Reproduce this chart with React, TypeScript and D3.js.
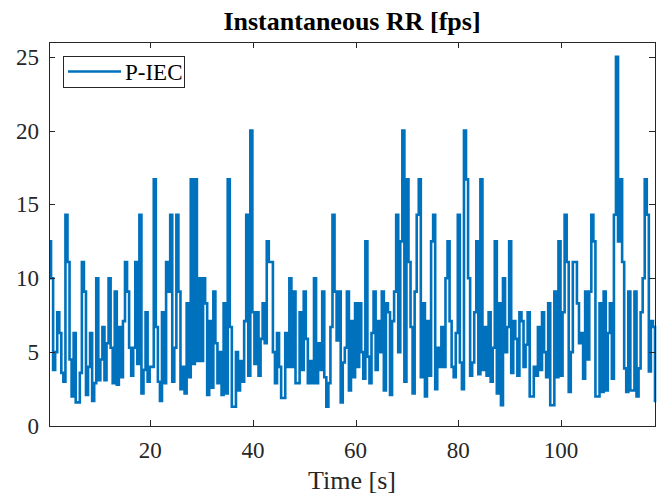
import React, { useEffect, useRef } from 'react';
import * as d3 from 'd3';

// instantaneous refresh rate (fps), one value every STEP seconds
const START = 0.3;
const STEP = 0.4;

const rates0to20 = [
  12.5, 10.0, 3.8, 5.0, 7.7, 6.3, 3.6, 3.0, 14.3, 11.1,
  4.5, 2.0, 6.3, 1.6, 1.6, 3.6, 11.1, 9.1, 2.1, 4.0,
  6.3, 1.7, 2.9, 10.0, 3.1, 4.5, 6.7, 3.1, 5.6, 10.0,
  5.3, 2.9, 9.1, 2.8, 6.7, 3.3, 7.1, 11.1, 9.1, 5.3,
  3.4, 5.3, 11.1, 4.2, 14.3, 2.2, 3.8, 7.7, 3.0, 4.0,
];
const rates20to40 = [
  4.0, 16.7, 6.7, 3.0, 1.7, 7.7, 2.9, 11.1, 9.1, 14.3,
  3.0, 5.3, 14.3, 9.1, 2.5, 4.0, 2.2, 8.3, 3.3, 16.7,
  4.2, 16.7, 4.4, 10.0, 4.4, 10.0, 8.3, 2.1, 7.1, 2.6,
  9.1, 5.6, 2.9, 5.0, 2.1, 8.3, 2.2, 16.7, 6.7, 1.3,
  1.3, 5.0, 2.4, 4.4, 3.0, 7.1, 14.3, 3.4, 20.0, 7.7,
];
const rates40to60 = [
  4.2, 7.7, 3.4, 5.9, 8.3, 5.6, 12.5, 11.1, 11.1, 5.0,
  2.9, 6.3, 4.0, 1.9, 1.9, 6.3, 4.0, 10.0, 4.0, 9.1,
  2.9, 2.9, 7.7, 3.8, 9.1, 5.9, 2.9, 4.4, 2.9, 10.0,
  2.9, 5.6, 3.8, 9.1, 3.3, 1.3, 2.9, 6.7, 14.3, 9.1,
  5.8, 9.1, 1.6, 4.3, 5.3, 9.1, 2.4, 7.1, 3.3, 8.3,
];
const rates60to80 = [
  4.0, 8.3, 5.0, 3.2, 12.5, 4.7, 2.9, 6.3, 9.1, 3.8,
  7.1, 5.0, 9.1, 2.4, 8.3, 7.7, 2.1, 7.1, 9.1, 14.3,
  5.0, 12.5, 20.0, 3.0, 16.7, 11.1, 6.7, 2.2, 9.1, 14.3,
  16.7, 3.3, 8.3, 2.0, 7.1, 3.4, 12.5, 14.3, 2.5, 5.3,
  4.0, 6.7, 4.0, 10.0, 12.5, 7.1, 4.0, 3.3, 6.3, 14.3,
];
const rates80to100 = [
  4.3, 2.5, 20.0, 16.7, 10.0, 3.4, 4.3, 7.7, 12.5, 3.5,
  16.7, 3.8, 6.7, 3.4, 7.7, 3.0, 5.3, 12.5, 2.2, 8.3,
  1.4, 10.0, 5.0, 6.7, 12.5, 3.6, 7.1, 5.9, 3.4, 7.7,
  7.1, 4.0, 5.5, 7.7, 2.0, 2.0, 4.0, 3.4, 6.7, 3.8,
  7.7, 5.0, 3.3, 8.3, 1.4, 1.4, 9.1, 3.3, 12.5, 3.4,
];
const rates100to118 = [
  7.7, 14.3, 11.1, 2.3, 5.0, 11.1, 11.1, 8.3, 5.6, 6.3,
  3.2, 9.1, 4.5, 9.1, 14.3, 12.5, 2.0, 2.0, 8.3, 2.3,
  9.1, 2.4, 6.3, 8.3, 3.2, 14.3, 25.0, 12.5, 16.7, 11.1,
  3.9, 2.3, 9.1, 2.4, 2.4, 9.1, 2.0, 3.9, 7.7, 10.0,
  16.7, 14.3, 3.7, 7.1, 6.7, 1.6,
];

const xTicks = [20, 40, 60, 80, 100];
const yTicks = [0, 5, 10, 15, 20, 25];
const seriesName = 'P-IEC';

const W = 672;
const H = 496;
const box = { left: 49, right: 655, top: 42, bottom: 426 };
const BLUE = '#0072BD';
const AXIS = '#262626';
const FONT = '"Liberation Serif", "Times New Roman", serif';

export default function App() {
  const svgRef = useRef<SVGSVGElement>(null);

  useEffect(() => {
    const svg = d3.select(svgRef.current);
    svg.selectAll('*').remove();

    const rates = [
      ...rates0to20, ...rates20to40, ...rates40to60,
      ...rates60to80, ...rates80to100, ...rates100to118,
    ];
    const data = rates.map((v, i) => ({ t: START + i * STEP, v }));

    const x = d3.scaleLinear().domain([0.3, 118.3]).range([box.left, box.right]);
    const y = d3.scaleLinear().domain([0, 26]).range([box.bottom, box.top]);

    svg.append('rect').attr('width', W).attr('height', H).attr('fill', '#fff');

    // stairs line
    const line = d3.line<{ t: number; v: number }>()
      .x(d => x(d.t))
      .y(d => y(d.v))
      .curve(d3.curveStepAfter);

    svg.append('path')
      .datum(data)
      .attr('d', line)
      .attr('fill', 'none')
      .attr('stroke', BLUE)
      .attr('stroke-width', 2.6)
      .attr('stroke-linejoin', 'miter');

    // box with inward ticks on all four sides
    const g = svg.append('g').attr('stroke', AXIS).attr('stroke-width', 1).attr('fill', 'none');
    g.append('rect')
      .attr('x', box.left + 0.5).attr('y', box.top + 0.5)
      .attr('width', box.right - box.left).attr('height', box.bottom - box.top);
    const tl = 6;
    xTicks.forEach(t => {
      const px = Math.round(x(t)) + 0.5;
      g.append('line').attr('x1', px).attr('x2', px).attr('y1', box.bottom).attr('y2', box.bottom - tl);
      g.append('line').attr('x1', px).attr('x2', px).attr('y1', box.top).attr('y2', box.top + tl);
    });
    yTicks.forEach(t => {
      const py = Math.round(y(t)) + 0.5;
      g.append('line').attr('y1', py).attr('y2', py).attr('x1', box.left).attr('x2', box.left + tl);
      g.append('line').attr('y1', py).attr('y2', py).attr('x1', box.right).attr('x2', box.right - tl);
    });

    const txt = svg.append('g').attr('font-family', FONT).attr('fill', AXIS);
    xTicks.forEach(t => {
      txt.append('text').attr('x', x(t)).attr('y', 458)
        .attr('text-anchor', 'middle').attr('font-size', 23).text(t);
    });
    yTicks.forEach(t => {
      txt.append('text').attr('x', 39).attr('y', y(t) + 8)
        .attr('text-anchor', 'end').attr('font-size', 23).text(t);
    });

    txt.append('text').attr('x', (box.left + box.right) / 2).attr('y', 489)
      .attr('text-anchor', 'middle').attr('font-size', 26).text('Time [s]');

    svg.append('text').attr('x', (box.left + box.right) / 2).attr('y', 30)
      .attr('text-anchor', 'middle').attr('font-family', FONT).attr('font-weight', 'bold')
      .attr('font-size', 26).attr('fill', '#000').text('Instantaneous RR [fps]');

    // legend
    const lg = svg.append('g');
    lg.append('rect').attr('x', 63.5).attr('y', 56.5).attr('width', 121).attr('height', 31)
      .attr('fill', '#fff').attr('stroke', AXIS).attr('stroke-width', 1);
    lg.append('line').attr('x1', 68).attr('x2', 121).attr('y1', 71.5).attr('y2', 71.5)
      .attr('stroke', BLUE).attr('stroke-width', 2.6);
    lg.append('text').attr('x', 125).attr('y', 79.5).attr('font-family', FONT)
      .attr('font-size', 23).attr('fill', '#000').text(seriesName);
  }, []);

  return (
    <svg ref={svgRef} width={W} height={H}
      style={{ position: 'absolute', left: 0, top: 0, display: 'block' }} />
  );
}
